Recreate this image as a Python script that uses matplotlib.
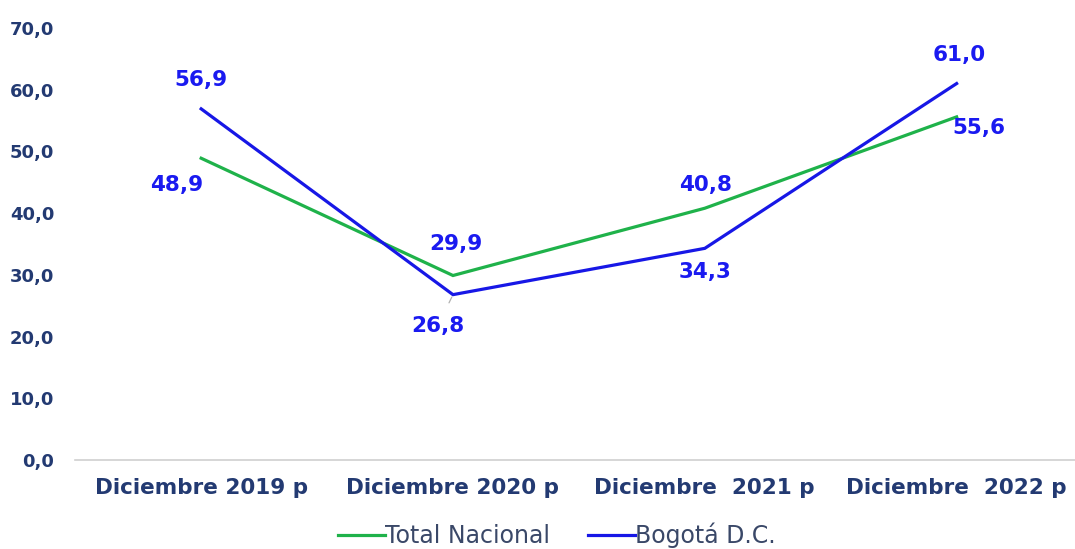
import matplotlib
matplotlib.use("Agg")
import matplotlib.pyplot as plt

categories = ["Diciembre 2019 p", "Diciembre 2020 p", "Diciembre  2021 p", "Diciembre  2022 p"]
total_nacional = [48.9, 29.9, 40.8, 55.6]
bogota = [56.9, 26.8, 34.3, 61.0]
yticks = [0, 10, 20, 30, 40, 50, 60, 70]

GREEN = "#1fb24a"
BLUE = "#1717e6"
LABEL_BLUE = "#1a1af0"
NAVY = "#233a72"

# label offsets in pixels (dx, dy)
off_total = [(-25, -27), (3, 32), (1, 23), (22, -11)]
off_bog = [(0, 29), (-15, -31), (0, -24), (3, 29)]

fig = plt.figure(figsize=(10.75, 5.49), dpi=100)
ax = fig.add_axes([0.07, 0.162, 0.937, 0.787])

x = list(range(len(categories)))
ax.plot(x, total_nacional, color=GREEN, lw=2.3, label="Total Nacional", solid_joinstyle="miter")
ax.plot(x, bogota, color=BLUE, lw=2.3, label="Bogotá D.C.", solid_joinstyle="miter")

def fmt(v):
    return f"{v:.1f}".replace(".", ",")

for i, v in enumerate(total_nacional):
    ax.annotate(fmt(v), (i, v), xytext=off_total[i], textcoords="offset pixels",
                ha="center", va="center", fontsize=15.5, fontweight="bold", color=LABEL_BLUE)
for i, v in enumerate(bogota):
    arrow = dict(arrowstyle="-", color="#b0b0b0", lw=0.9, shrinkA=8, shrinkB=2) if i == 1 else None
    ax.annotate(fmt(v), (i, v), xytext=off_bog[i], textcoords="offset pixels",
                ha="center", va="center", fontsize=15.5, fontweight="bold", color=LABEL_BLUE,
                arrowprops=arrow)

ax.set_xlim(-0.5, 3.5)
ax.set_ylim(0, 70)
ax.set_yticks(yticks)
ax.set_yticklabels([fmt(t) for t in yticks], fontsize=13, fontweight="bold", color=NAVY)
ax.set_xticks(x)
ax.set_xticklabels(categories, fontsize=15.5, fontweight="bold", color=NAVY)
ax.tick_params(length=0, axis="both")
ax.tick_params(axis="x", pad=13)
ax.tick_params(axis="y", pad=15)
for s in ["top", "right", "left"]:
    ax.spines[s].set_visible(False)
ax.spines["bottom"].set_color("#d0d0d0")
ax.spines["bottom"].set_linewidth(1.2)

leg = fig.legend(loc="lower center", bbox_to_anchor=(0.518, -0.037), ncol=2, frameon=False,
                 fontsize=17, handlelength=2.0, handletextpad=0.0, columnspacing=1.6)
for t in leg.get_texts():
    t.set_color("#3a4868")

fig.savefig("out.png", dpi=100)
